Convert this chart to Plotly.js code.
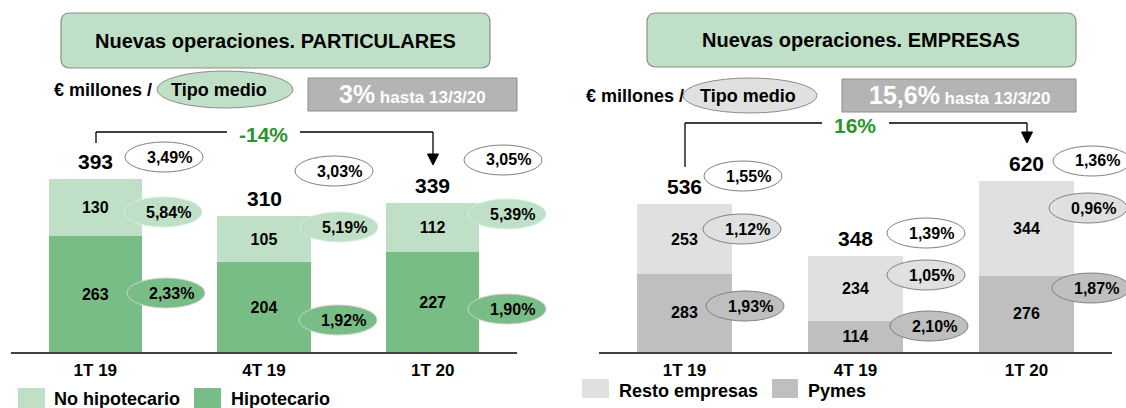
<!DOCTYPE html>
<html><head><meta charset="utf-8">
<script src="https://cdn.plot.ly/plotly-3.0.1.min.js"></script>
<style>html,body{margin:0;padding:0;background:#fff}#chart{width:1126px;height:408px}</style>
</head><body><div id="chart"></div>
<script>
// ---------- data ----------
const categories = ['1T 19', '4T 19', '1T 20'];
const hipotecario = [263, 204, 227];
const noHipotecario = [130, 105, 112];
const totalParticulares = [393, 310, 339];
const pymes = [283, 114, 276];
const restoEmpresas = [253, 234, 344];
const totalEmpresas = [536, 348, 620];
const tipoTotalPart = [3.49, 3.03, 3.05];
const tipoNoHip = [5.84, 5.19, 5.39];
const tipoHip = [2.33, 1.92, 1.90];
const tipoTotalEmp = [1.55, 1.39, 1.36];
const tipoResto = [1.12, 1.05, 0.96];
const tipoPymes = [1.93, 2.10, 1.87];
const variacionPart = '-14%';
const variacionEmp = '16%';
const hastaPart = '3%';
const hastaEmp = '15,6%';
const hastaFecha = 'hasta 13/3/20';
const titlePart = 'Nuevas operaciones. PARTICULARES';
const titleEmp = 'Nuevas operaciones. EMPRESAS';
const legendPart = ['No hipotecario', 'Hipotecario'];
const legendEmp = ['Resto empresas', 'Pymes'];

// ---------- styling / layout helpers ----------
const W = 1126, H = 408;
const X = p => p / W;
const Y = p => 1 - p / H;
const F = 'Liberation Sans, Arial, Helvetica, sans-serif';
const C = {
  lightGreen: '#bfe0c7', darkGreen: '#79bd86',
  lightGray: '#e0e0e0', midGray: '#bfbfbf',
  boxGray: '#b4b4b4', green: '#2a962a'
};
const fmt = v => v.toFixed(2).replace('.', ',') + '%';

// ellipse pixel centres (decoration positions)
const ellPos = {
  leftTop: [[164,157],[334,171],[503,160]],
  leftMid: [[163,212],[339,227],[507,214]],
  leftBot: [[166,293],[338,320],[507,309]],
  rightTop: [[743,176],[926,233],[1092,161]],
  rightMid: [[742,229],[926,275],[1088,208]],
  rightBot: [[745,306],[929,326],[1091,288]]
};
const ERX = 39, ERY = 15;

const shapes = [];
const annotations = [];

function ann(text, px, py, size, opts) {
  annotations.push(Object.assign({
    xref: 'paper', yref: 'paper', x: X(px), y: Y(py), text: text,
    showarrow: false, xanchor: 'center', yanchor: 'middle',
    font: {family: F, size: size, color: '#000'}
  }, opts || {}));
}
function ellipse(cx, cy, rx, ry, fill, line) {
  shapes.push({type: 'circle', xref: 'paper', yref: 'paper', layer: 'above',
    x0: X(cx - rx), x1: X(cx + rx), y0: Y(cy + ry), y1: Y(cy - ry),
    fillcolor: fill, line: {color: line, width: 1}});
}
function rect(x0, y0, x1, y1, fill, line) {
  shapes.push({type: 'rect', xref: 'paper', yref: 'paper', layer: 'above',
    x0: X(x0), x1: X(x1), y0: Y(y1), y1: Y(y0),
    fillcolor: fill, line: line ? {color: line, width: 1} : {width: 0}});
}
function roundRect(x0, y0, x1, y1, r, fill, line) {
  const p = (x, y) => X(x) + ',' + Y(y);
  const d = 'M' + p(x0 + r, y0) + ' L' + p(x1 - r, y0) + ' Q' + p(x1, y0) + ' ' + p(x1, y0 + r) +
    ' L' + p(x1, y1 - r) + ' Q' + p(x1, y1) + ' ' + p(x1 - r, y1) +
    ' L' + p(x0 + r, y1) + ' Q' + p(x0, y1) + ' ' + p(x0, y1 - r) +
    ' L' + p(x0, y0 + r) + ' Q' + p(x0, y0) + ' ' + p(x0 + r, y0) + ' Z';
  shapes.push({type: 'path', xref: 'paper', yref: 'paper', layer: 'above', path: d,
    fillcolor: fill, line: {color: line, width: 1.2}});
}
function line(x0, y0, x1, y1) {
  shapes.push({type: 'line', xref: 'paper', yref: 'paper', layer: 'above',
    x0: X(x0), x1: X(x1), y0: Y(y0), y1: Y(y1), line: {color: '#000', width: 1.3}});
}
function arrowHead(x, tipY) {
  const p = (a, b) => X(a) + ',' + Y(b);
  shapes.push({type: 'path', xref: 'paper', yref: 'paper', layer: 'above',
    path: 'M' + p(x - 5.5, tipY - 11) + ' L' + p(x + 5.5, tipY - 11) + ' L' + p(x, tipY) + ' Z',
    fillcolor: '#000', line: {color: '#000', width: 1}});
}
function rateEllipses(pos, vals, fill, lineCol) {
  pos.forEach((c, i) => {
    ellipse(c[0], c[1], ERX, ERY, fill, lineCol);
    ann('<b>' + fmt(vals[i]) + '</b>', c[0] + 5, c[1], 16);
  });
}

// ---------- headers ----------
roundRect(61, 13, 490, 68, 9, C.lightGreen, '#8c8c8c');
ann('<b>' + titlePart + '</b>', 275, 41, 20);
roundRect(647, 13, 1076, 67, 9, C.lightGreen, '#8c8c8c');
ann('<b>' + titleEmp + '</b>', 861, 40, 20);

ann('<b>€ millones /</b>', 52, 90, 18, {xanchor: 'left'});
ellipse(225, 89.5, 68, 18.5, C.lightGreen, '#8c8c8c');
ann('<b>Tipo medio</b>', 219, 90, 18);
rect(308, 78, 517, 111, C.boxGray, '#8c8c8c');
ann('<b><span style="font-size:25px">' + hastaPart + '</span> ' + hastaFecha + '</b>', 412, 94, 17, {font: {family: F, size: 17, color: '#fff'}});

ann('<b>€ millones /</b>', 584, 96, 18, {xanchor: 'left'});
ellipse(750, 95.5, 67, 17.5, C.lightGray, '#8c8c8c');
ann('<b>Tipo medio</b>', 748, 96, 18);
rect(842, 79, 1076, 112, C.boxGray, '#8c8c8c');
ann('<b><span style="font-size:25px">' + hastaEmp + '</span> ' + hastaFecha + '</b>', 959, 95, 17, {font: {family: F, size: 17, color: '#fff'}});

// ---------- brackets ----------
line(96, 143, 96, 132); line(96, 132, 227, 132); line(300, 132, 433, 132); line(433, 132, 433, 155);
arrowHead(433, 165);
ann('<b>' + variacionPart + '</b>', 263, 135, 21, {font: {family: F, size: 21, color: C.green}});

line(685, 167, 685, 123); line(685, 123, 822, 123); line(889, 123, 1027, 123); line(1027, 123, 1027, 132);
arrowHead(1027, 143);
ann('<b>' + variacionEmp + '</b>', 855, 125, 21, {font: {family: F, size: 21, color: C.green}});

// ---------- rate ellipses ----------
rateEllipses(ellPos.leftTop, tipoTotalPart, '#ffffff', '#808080');
rateEllipses(ellPos.leftMid, tipoNoHip, C.lightGreen, '#d3f0e0');
rateEllipses(ellPos.leftBot, tipoHip, C.darkGreen, '#d0d0d0');
rateEllipses(ellPos.rightTop, tipoTotalEmp, '#ffffff', '#808080');
rateEllipses(ellPos.rightMid, tipoResto, C.lightGray, '#808080');
rateEllipses(ellPos.rightBot, tipoPymes, C.midGray, '#808080');

// ---------- totals ----------
categories.forEach((c, i) => {
  annotations.push({xref: 'x', yref: 'y', x: c, y: totalParticulares[i], yanchor: 'bottom', yshift: 4,
    text: '<b>' + totalParticulares[i] + '</b>', showarrow: false, font: {family: F, size: 21, color: '#000'}});
  annotations.push({xref: 'x2', yref: 'y2', x: c, y: totalEmpresas[i], yanchor: 'bottom', yshift: 4,
    text: '<b>' + totalEmpresas[i] + '</b>', showarrow: false, font: {family: F, size: 21, color: '#000'}});
});

// ---------- legends ----------
rect(18, 388, 45, 410, C.lightGreen);
ann('<b>' + legendPart[0] + '</b>', 52, 399, 18, {xanchor: 'left'});
rect(194, 388, 221, 410, C.darkGreen);
ann('<b>' + legendPart[1] + '</b>', 229, 399, 18, {xanchor: 'left'});
rect(582, 379, 609, 398, C.lightGray);
ann('<b>' + legendEmp[0] + '</b>', 617, 391, 18, {xanchor: 'left'});
rect(772, 379, 798, 398, C.midGray);
ann('<b>' + legendEmp[1] + '</b>', 806, 391, 18, {xanchor: 'left'});

// ---------- traces ----------
const barCommon = {type: 'bar', width: 0.555, textposition: 'inside', insidetextanchor: 'middle',
  texttemplate: '<b>%{y}</b>', textangle: 0, constraintext: 'none',
  insidetextfont: {family: F, size: 16, color: '#000'}, hoverinfo: 'skip'};
const traces = [
  Object.assign({}, barCommon, {name: legendPart[1], x: categories, y: hipotecario, marker: {color: C.darkGreen}, xaxis: 'x', yaxis: 'y'}),
  Object.assign({}, barCommon, {name: legendPart[0], x: categories, y: noHipotecario, marker: {color: C.lightGreen}, xaxis: 'x', yaxis: 'y'}),
  Object.assign({}, barCommon, {name: legendEmp[1], x: categories, y: pymes, marker: {color: C.midGray}, xaxis: 'x2', yaxis: 'y2'}),
  Object.assign({}, barCommon, {name: legendEmp[0], x: categories, y: restoEmpresas, marker: {color: C.lightGray}, xaxis: 'x2', yaxis: 'y2'})
];

const xCommon = {type: 'category', range: [-0.5, 2.5], showline: true, linecolor: '#404040', linewidth: 2,
  ticks: '', showgrid: false, zeroline: false, fixedrange: true, ticklabelstandoff: 2,
  tickfont: {family: F, size: 17, color: '#000', weight: 'bold'}};
const yBottom = 1 - 352 / H;
const layout = {
  width: W, height: H, margin: {l: 0, r: 0, t: 0, b: 0},
  paper_bgcolor: '#fff', plot_bgcolor: '#fff', showlegend: false, barmode: 'stack',
  xaxis: Object.assign({}, xCommon, {domain: [X(11), X(517)], anchor: 'y'}),
  yaxis: {domain: [yBottom, 1], range: [0, 352 / 0.4395], visible: false, fixedrange: true, anchor: 'x'},
  xaxis2: Object.assign({}, xCommon, {domain: [X(599), X(1112)], anchor: 'y2'}),
  yaxis2: {domain: [yBottom, 1], range: [0, 352 / 0.2758], visible: false, fixedrange: true, anchor: 'x2'},
  shapes: shapes, annotations: annotations
};
Plotly.newPlot('chart', traces, layout, {displayModeBar: false, staticPlot: true});
</script></body></html>
